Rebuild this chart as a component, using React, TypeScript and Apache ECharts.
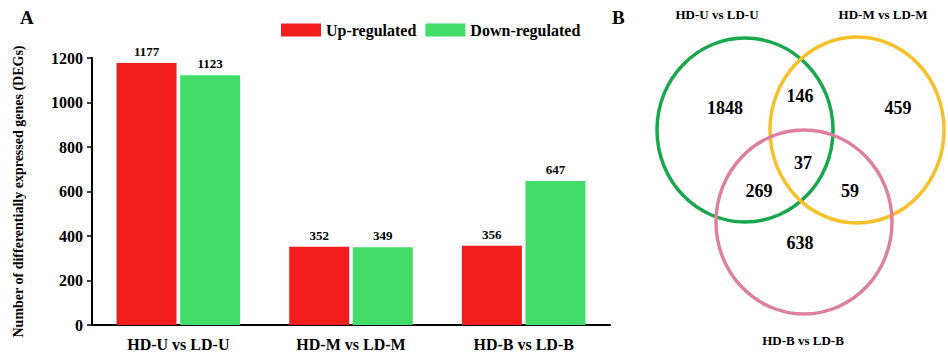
import React, { useEffect, useRef } from "react";
import * as echarts from "echarts";

const categories = ["HD-U vs LD-U", "HD-M vs LD-M", "HD-B vs LD-B"];
const upRegulated = [1177, 352, 356];
const downRegulated = [1123, 349, 647];
const yTicks = { min: 0, max: 1200, interval: 200 };

// Venn circles: [cx, cy, rx, ry] in the venn panel's pixel-like data space
const vennCircles = [
  [745, 130, 88, 92],
  [857, 130, 87, 93],
  [804, 222, 88, 92],
];
const vennColors = ["#17a84b", "#f6c128", "#db819f"];
const vennCounts = [
  { value: [725, 108], text: "1848" },
  { value: [800, 96], text: "146" },
  { value: [898, 108], text: "459" },
  { value: [803, 163], text: "37" },
  { value: [759, 191], text: "269" },
  { value: [850, 191], text: "59" },
  { value: [800, 243], text: "638" },
];
const vennTitles = [
  { value: [717, 14], text: "HD-U vs LD-U" },
  { value: [883, 14], text: "HD-M vs LD-M" },
  { value: [803, 340], text: "HD-B vs LD-B" },
];

const FONT = "Liberation Serif";

export default function App() {
  const ref = useRef<HTMLDivElement>(null);
  useEffect(() => {
    document.body.style.margin = "0";
    const chart = echarts.init(ref.current!, null, { renderer: "svg" });
    const labelText = {
      fontFamily: FONT,
      fontWeight: "bold" as const,
      color: "#000",
    };
    chart.setOption({
      animation: false,
      backgroundColor: "#ffffff",
      textStyle: { fontFamily: FONT },
      legend: {
        left: 276,
        top: 17,
        itemWidth: 40,
        itemHeight: 13,
        itemGap: 9,
        icon: "rect",
        textStyle: { ...labelText, fontSize: 16 },
        data: ["Up-regulated", "Down-regulated"],
      },
      graphic: [
        { type: "text", left: 20, top: 8, style: { text: "A", fontFamily: FONT, fontWeight: "bold", fontSize: 19, fill: "#000" } },
        { type: "text", left: 612, top: 8, style: { text: "B", fontFamily: FONT, fontWeight: "bold", fontSize: 19, fill: "#000" } },
      ],
      grid: [
        { left: 92, right: 338, top: 58, bottom: 29 },
        { left: 0, top: 0, width: 948, height: 354 },
      ],
      xAxis: [
        {
          type: "category",
          gridIndex: 0,
          data: categories,
          axisLine: { lineStyle: { color: "#000", width: 2 } },
          axisTick: { show: false },
          axisLabel: { ...labelText, fontSize: 16, margin: 11 },
        },
        { type: "value", gridIndex: 1, min: 0, max: 948, show: false },
      ],
      yAxis: [
        {
          type: "value",
          gridIndex: 0,
          min: yTicks.min,
          max: yTicks.max,
          interval: yTicks.interval,
          name: "Number of differentially expressed genes (DEGs)",
          nameLocation: "middle",
          nameRotate: 90,
          nameGap: 67,
          nameTextStyle: { ...labelText, fontSize: 14 },
          axisLine: { show: true, lineStyle: { color: "#000", width: 2 } },
          axisTick: { show: true, length: 5, lineStyle: { color: "#000", width: 1.5 } },
          splitLine: { show: false },
          axisLabel: { ...labelText, fontSize: 16, margin: 9, formatter: (v: number) => String(v) },
        },
        { type: "value", gridIndex: 1, min: 0, max: 354, inverse: true, show: false },
      ],
      series: [
        {
          name: "Up-regulated",
          type: "bar",
          xAxisIndex: 0,
          yAxisIndex: 0,
          data: upRegulated,
          barWidth: 60,
          barGap: "6%",
          itemStyle: { color: "#f21d1d" },
          label: { show: true, position: "top", distance: 5, ...labelText, fontSize: 13 },
        },
        {
          name: "Down-regulated",
          type: "bar",
          xAxisIndex: 0,
          yAxisIndex: 0,
          data: downRegulated,
          barWidth: 60,
          barGap: "6%",
          itemStyle: { color: "#42dc68" },
          label: { show: true, position: "top", distance: 5, ...labelText, fontSize: 13 },
        },
        {
          type: "custom",
          xAxisIndex: 1,
          yAxisIndex: 1,
          data: vennCircles,
          silent: true,
          renderItem: (params: any, api: any) => {
            const c = api.coord([api.value(0), api.value(1)]);
            const s = api.size([api.value(2), api.value(3)]);
            return {
              type: "ellipse",
              shape: { cx: c[0], cy: c[1], rx: Math.abs(s[0]), ry: Math.abs(s[1]) },
              style: { fill: "none", stroke: vennColors[params.dataIndex], lineWidth: 3.5 },
            };
          },
        },
        {
          type: "scatter",
          xAxisIndex: 1,
          yAxisIndex: 1,
          symbolSize: 1,
          itemStyle: { color: "rgba(0,0,0,0)", opacity: 1 },
          silent: true,
          data: vennCounts,
          label: {
            show: true,
            position: "inside",
            formatter: (p: any) => p.data.text,
            ...labelText,
            fontSize: 18,
          },
        },
        {
          type: "scatter",
          xAxisIndex: 1,
          yAxisIndex: 1,
          symbolSize: 1,
          itemStyle: { color: "rgba(0,0,0,0)", opacity: 1 },
          silent: true,
          data: vennTitles,
          label: {
            show: true,
            position: "inside",
            formatter: (p: any) => p.data.text,
            ...labelText,
            fontSize: 13,
          },
        },
      ],
    });
    return () => chart.dispose();
  }, []);
  return <div ref={ref} style={{ width: 948, height: 354 }} />;
}
